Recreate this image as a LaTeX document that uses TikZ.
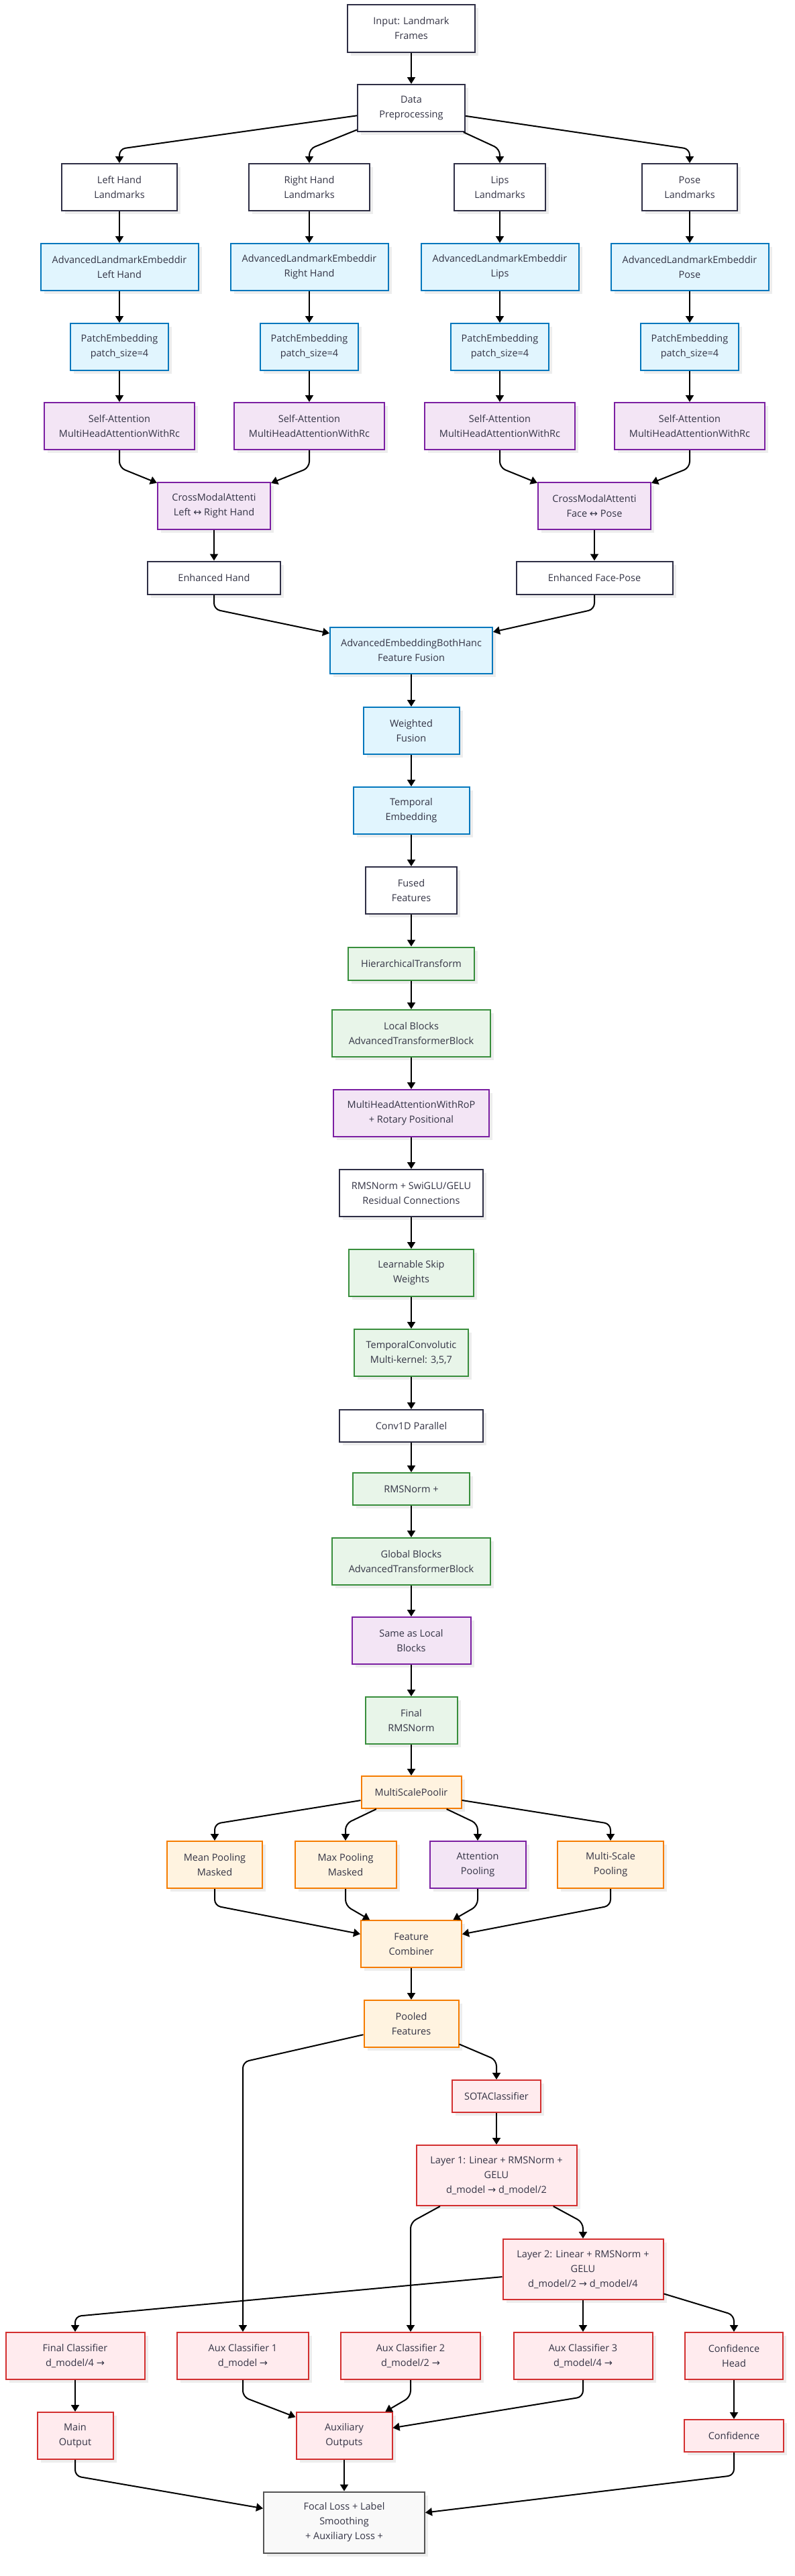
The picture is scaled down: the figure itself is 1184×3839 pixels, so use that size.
\documentclass[tikz,border=0pt]{standalone}
\usepackage{fontspec}
\setmainfont{Open Sans}
\newfontfamily\symf{DejaVu Sans}
\usetikzlibrary{arrows.meta,shadows}
\definecolor{txt}{HTML}{333344}
\definecolor{dk}{HTML}{2E2E45}
\definecolor{bfill}{HTML}{E1F5FE}\definecolor{bdraw}{HTML}{0277BD}
\definecolor{pfill}{HTML}{F3E5F5}\definecolor{pdraw}{HTML}{7B1FA2}
\definecolor{gfill}{HTML}{E8F5E9}\definecolor{gdraw}{HTML}{388E3C}
\definecolor{ofill}{HTML}{FFF3E0}\definecolor{odraw}{HTML}{F57C00}
\definecolor{rfill}{HTML}{FFEBEE}\definecolor{rdraw}{HTML}{D32F2F}
\definecolor{kfill}{HTML}{F9F9F9}\definecolor{kdraw}{HTML}{555555}
\newcommand\nd[7]{\node[#6, minimum width=#4pt, minimum height=#5pt] (#1) at (#2,#3) {#7};}
\newcommand\ar{{\symf ↔}}
\newcommand\ra{{\symf →}}
\begin{document}
\begin{tikzpicture}[x=1pt,y=-1pt,
  base/.style={draw, line width=2pt, align=center, inner sep=0pt, font=\fontsize{14.5}{22}\selectfont, text=txt,
    drop shadow={shadow xshift=5pt,shadow yshift=-5pt,fill=black,opacity=0.07}},
  wbox/.style={base, draw=dk, fill=white},
  bbox/.style={base, draw=bdraw, fill=bfill},
  pbox/.style={base, draw=pdraw, fill=pfill},
  gbox/.style={base, draw=gdraw, fill=gfill},
  obox/.style={base, draw=odraw, fill=ofill},
  rbox/.style={base, draw=rdraw, fill=rfill},
  kbox/.style={base, draw=kdraw, fill=kfill},
  arr/.style={-{Triangle[length=10pt,width=12pt]}, line width=2pt, rounded corners=9pt, black}
]
\useasboundingbox (0,0) rectangle (1184,3839);
\fill[white] (0,0) rectangle (1184,3839);

% top
\nd{in}{613}{42}{190}{71}{wbox}{Input: Landmark\\Frames}
\nd{pre}{613}{161}{160}{70}{wbox}{Data\\Preprocessing}
\nd{lh}{178}{279}{172}{70}{wbox}{Left Hand\\Landmarks}
\nd{rh}{461}{279}{180}{70}{wbox}{Right Hand\\Landmarks}
\nd{lp}{745}{279}{136}{70}{wbox}{Lips\\Landmarks}
\nd{ps}{1028}{279}{142}{70}{wbox}{Pose\\Landmarks}

\nd{e1}{178}{398}{235}{70}{bbox}{AdvancedLandmarkEmbeddir\\Left Hand}
\nd{e2}{461}{398}{235}{70}{bbox}{AdvancedLandmarkEmbeddir\\Right Hand}
\nd{e3}{745}{398}{235}{70}{bbox}{AdvancedLandmarkEmbeddir\\Lips}
\nd{e4}{1028}{398}{235}{70}{bbox}{AdvancedLandmarkEmbeddir\\Pose}

\nd{p1}{178}{517}{146}{70}{bbox}{PatchEmbedding\\patch\_size=4}
\nd{p2}{461}{517}{146}{70}{bbox}{PatchEmbedding\\patch\_size=4}
\nd{p3}{745}{517}{146}{70}{bbox}{PatchEmbedding\\patch\_size=4}
\nd{p4}{1028}{517}{146}{70}{bbox}{PatchEmbedding\\patch\_size=4}

\nd{s1}{178}{635}{224}{70}{pbox}{Self-Attention\\MultiHeadAttentionWithRc}
\nd{s2}{461}{635}{224}{70}{pbox}{Self-Attention\\MultiHeadAttentionWithRc}
\nd{s3}{745}{635}{224}{70}{pbox}{Self-Attention\\MultiHeadAttentionWithRc}
\nd{s4}{1028}{635}{224}{70}{pbox}{Self-Attention\\MultiHeadAttentionWithRc}

\nd{cm1}{319}{754}{168}{70}{pbox}{CrossModalAttenti\\Left \ar{} Right Hand}
\nd{cm2}{886}{754}{168}{70}{pbox}{CrossModalAttenti\\Face \ar{} Pose}
\nd{eh}{319}{861}{198}{49}{wbox}{Enhanced Hand}
\nd{ef}{886}{861}{233}{49}{wbox}{Enhanced Face-Pose}

% main column
\nd{fus}{613}{969}{242}{69}{bbox}{AdvancedEmbeddingBothHanc\\Feature Fusion}
\nd{wf}{613}{1089}{143}{70}{bbox}{Weighted\\Fusion}
\nd{te}{613}{1208}{173}{70}{bbox}{Temporal\\Embedding}
\nd{ff}{613}{1327}{136}{70}{wbox}{Fused\\Features}
\nd{ht}{613}{1436}{188}{49}{gbox}{HierarchicalTransform}
\nd{lb}{613}{1540}{236}{70}{gbox}{Local Blocks\\AdvancedTransformerBlock}
\nd{mh}{613}{1659}{232}{70}{pbox}{MultiHeadAttentionWithRoP\\+ Rotary Positional}
\nd{rn}{613}{1778}{214}{70}{wbox}{RMSNorm + SwiGLU/GELU\\Residual Connections}
\nd{ls}{613}{1897}{186}{70}{gbox}{Learnable Skip\\Weights}
\nd{tc}{613}{2016}{170}{70}{gbox}{TemporalConvolutic\\Multi-kernel: 3,5,7}
\nd{cv}{613}{2125}{214}{48}{wbox}{Conv1D Parallel}
\nd{rp}{613}{2219}{174}{48}{gbox}{RMSNorm +}
\nd{gb}{613}{2327}{236}{70}{gbox}{Global Blocks\\AdvancedTransformerBlock}
\nd{sl}{613}{2445}{177}{70}{pbox}{Same as Local\\Blocks}
\nd{fr}{613}{2564}{137}{70}{gbox}{Final\\RMSNorm}
\nd{mp}{613}{2671}{149}{48}{obox}{MultiScalePoolir}

\nd{mean}{320}{2779}{142}{70}{obox}{Mean Pooling\\Masked}
\nd{max}{515}{2779}{151}{70}{obox}{Max Pooling\\Masked}
\nd{att}{712}{2779}{143}{70}{pbox}{Attention\\Pooling}
\nd{msp}{910}{2779}{158}{70}{obox}{Multi-Scale\\Pooling}
\nd{fc}{613}{2897}{150}{70}{obox}{Feature\\Combiner}
\nd{pf}{613}{3016}{141}{70}{obox}{Pooled\\Features}

% classifier
\nd{sota}{740}{3124}{132}{48}{rbox}{SOTAClassifier}
\nd{l1}{740}{3242}{239}{90}{rbox}{Layer 1: Linear + RMSNorm +\\GELU\\d\_model \ra{} d\_model/2}
\nd{l2}{869}{3382}{239}{90}{rbox}{Layer 2: Linear + RMSNorm +\\GELU\\d\_model/2 \ra{} d\_model/4}
\nd{fcl}{112}{3511}{207}{70}{rbox}{Final Classifier\\d\_model/4 \ra}
\nd{a1}{362}{3511}{196}{70}{rbox}{Aux Classifier 1\\d\_model \ra}
\nd{a2}{612}{3511}{208}{70}{rbox}{Aux Classifier 2\\d\_model/2 \ra}
\nd{a3}{869}{3511}{207}{70}{rbox}{Aux Classifier 3\\d\_model/4 \ra}
\nd{ch}{1094}{3511}{146}{70}{rbox}{Confidence\\Head}
\nd{mo}{112}{3630}{113}{70}{rbox}{Main\\Output}
\nd{ao}{513}{3630}{143}{70}{rbox}{Auxiliary\\Outputs}
\nd{co}{1094}{3630}{148}{48}{rbox}{Confidence}
\nd{fl}{513}{3759}{240}{91}{kbox}{Focal Loss + Label\\Smoothing\\+ Auxiliary Loss +}

% connectors
\draw[arr] (in) -- (pre);
\draw[arr] (pre) -- (178,222) -- (lh);
\draw[arr] (pre) -- (461,222) -- (rh);
\draw[arr] (pre) -- (745,222) -- (lp);
\draw[arr] (pre) -- (1028,222) -- (ps);
\foreach \a/\b in {lh/e1,rh/e2,lp/e3,ps/e4,e1/p1,e2/p2,e3/p3,e4/p4,p1/s1,p2/s2,p3/s3,p4/s4}
  \draw[arr] (\a) -- (\b);
\draw[arr] (s1) -- (178,697) -- (cm1);
\draw[arr] (s2) -- (461,697) -- (cm1);
\draw[arr] (s3) -- (745,697) -- (cm2);
\draw[arr] (s4) -- (1028,697) -- (cm2);
\draw[arr] (cm1) -- (eh);
\draw[arr] (cm2) -- (ef);
\draw[arr] (eh) -- (319,908) -- (fus);
\draw[arr] (ef) -- (886,908) -- (fus);
\foreach \a/\b in {fus/wf,wf/te,te/ff,ff/ht,ht/lb,lb/mh,mh/rn,rn/ls,ls/tc,tc/cv,cv/rp,rp/gb,gb/sl,sl/fr,fr/mp}
  \draw[arr] (\a) -- (\b);
\draw[arr] (mp) -- (320,2718) -- (mean);
\draw[arr] (mp) -- (515,2718) -- (max);
\draw[arr] (mp) -- (712,2718) -- (att);
\draw[arr] (mp) -- (910,2718) -- (msp);
\draw[arr] (mean) -- (320,2840) -- (fc);
\draw[arr] (max) -- (515,2840) -- (fc);
\draw[arr] (att) -- (712,2840) -- (fc);
\draw[arr] (msp) -- (910,2840) -- (fc);
\draw[arr] (fc) -- (pf);
\draw[arr] (pf) -- (362,3073) -- (a1);
\draw[arr] (pf) -- (740,3070) -- (sota);
\draw[arr] (sota) -- (l1);
\draw[arr] (l1) -- (612,3312) -- (a2);
\draw[arr] (l1) -- (869,3312) -- (l2);
\draw[arr] (l2) -- (112,3452) -- (fcl);
\draw[arr] (l2) -- (a3);
\draw[arr] (l2) -- (1094,3450) -- (ch);
\draw[arr] (fcl) -- (mo);
\draw[arr] (ch) -- (co);
\draw[arr] (a1) -- (362,3572) -- (ao);
\draw[arr] (a2) -- (612,3572) -- (ao);
\draw[arr] (a3) -- (869,3572) -- (ao);
\draw[arr] (mo) -- (112,3690) -- (fl);
\draw[arr] (ao) -- (fl);
\draw[arr] (co) -- (1094,3689) -- (fl);
\end{tikzpicture}
\end{document}
